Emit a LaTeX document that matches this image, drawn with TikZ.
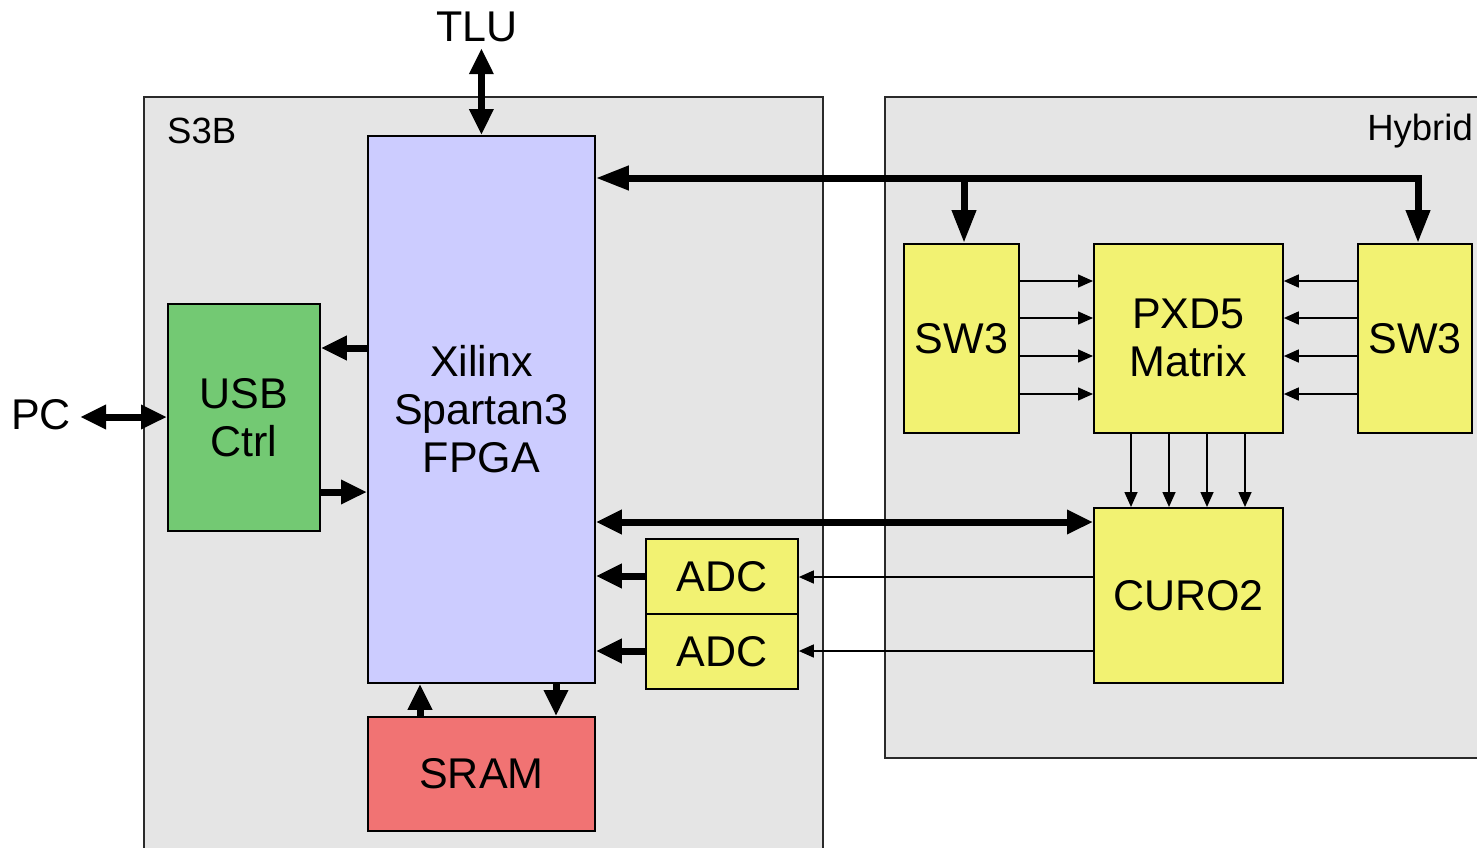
\documentclass[tikz,border=0pt]{standalone}
\usepackage{fontspec}
\setmainfont{Liberation Sans}
\usetikzlibrary{arrows.meta}
\definecolor{bggray}{HTML}{E5E5E5}
\definecolor{fpgacol}{HTML}{CCCCFF}
\definecolor{usbcol}{HTML}{73C973}
\definecolor{sramcol}{HTML}{F17373}
\definecolor{ylw}{HTML}{F2F272}
\definecolor{edgecol}{HTML}{2A2A2A}
\begin{document}
\begin{tikzpicture}[x=1pt,y=-1pt,
  outerbox/.style={draw=edgecol, line width=1.5pt, fill=bggray, anchor=north west, inner sep=0pt},
  blk/.style={draw=black, line width=1.8pt, anchor=north west, inner sep=0pt, align=center,
    font=\fontsize{43pt}{48pt}\selectfont},
  lbl/.style={font=\fontsize{43pt}{48pt}\selectfont, inner sep=0pt},
  smalllbl/.style={font=\fontsize{36.5pt}{40pt}\selectfont, inner sep=0pt},
  thk/.style={line width=7pt, arrows={-Triangle[length=26pt,width=23pt]}},
  thkboth/.style={line width=7pt, arrows={Triangle[length=26pt,width=23pt]-Triangle[length=26pt,width=23pt]}},
  thkbus/.style={line width=7pt, arrows={Triangle[length=33pt,width=23pt]-Triangle[length=33pt,width=23pt]}},
  thkdown/.style={line width=7pt, arrows={-Triangle[length=33pt,width=23pt]}},
  thn/.style={line width=1.5pt, arrows={-Triangle[length=15pt,width=13pt]}}
]
\clip (0,0) rectangle (1477,847);
\fill[white] (0,0) rectangle (1477,847);

% outer boards
\node[outerbox, minimum width=679pt, minimum height=800pt] (s3b) at (143,96) {};
\node[outerbox, minimum width=650pt, minimum height=661pt] (hyb) at (884,96) {};
\node[smalllbl, anchor=west] (s3blbl) at (167,131) {S3B};
\node[smalllbl, anchor=east] (hyblbl) at (1473,131) {Hybrid};

% blocks
\node[blk, fill=fpgacol, minimum width=227pt, minimum height=547pt] (fpga) at (367,135) {Xilinx\\Spartan3\\FPGA};
\node[blk, fill=usbcol, minimum width=152pt, minimum height=227pt] (usb) at (167,303) {USB\\Ctrl};
\node[blk, fill=sramcol, minimum width=227pt, minimum height=114pt] (sram) at (367,716) {SRAM};
\node[blk, fill=ylw, minimum width=152pt, minimum height=75pt] (adca) at (645,538) {ADC};
\node[blk, fill=ylw, minimum width=152pt, minimum height=75pt] (adcb) at (645,613) {ADC};
\node[blk, fill=ylw, minimum width=189pt, minimum height=175pt] (curo) at (1093,507) {CURO2};
\node[blk, fill=ylw, minimum width=189pt, minimum height=189pt] (pxd) at (1093,243) {PXD5\\Matrix};
\node[blk, fill=ylw, minimum width=115pt, minimum height=189pt] (swa) at (903,243) {SW3};
\node[blk, fill=ylw, minimum width=114pt, minimum height=189pt] (swb) at (1357,243) {SW3};

% outside labels
\node[lbl] (tlu) at (477,27) {TLU};
\node[lbl] (pc) at (41,415) {PC};

% TLU and PC links
\draw[thkboth, shorten <=6pt] (tlu.south -| fpga.north) -- (fpga.north);
\draw[thkboth, shorten <=9pt] (pc.east |- 0,417) -- (usb.west |- 0,417);

% FPGA <-> USB
\draw[thk] (fpga.west |- 0,348) -- (usb.east |- 0,348);
\draw[thk] (usb.east |- 0,492) -- (fpga.west |- 0,492);

% FPGA <-> SRAM
\draw[thk] (sram.north -| 420,0) -- (fpga.south -| 420,0);
\draw[thk] (fpga.south -| 556,0) -- (sram.north -| 556,0);

% ADCs to FPGA
\draw[thk] (adca.west |- 0,576) -- (fpga.east |- 0,576);
\draw[thk] (adcb.west |- 0,651) -- (fpga.east |- 0,651);

% FPGA <-> CURO2
\draw[thkboth] (fpga.east |- 0,522) -- (curo.west |- 0,522);

% CURO2 to ADCs
\draw[thn] (curo.west |- 0,577) -- (adca.east |- 0,577);
\draw[thn] (curo.west |- 0,651) -- (adcb.east |- 0,651);

% top bus
\coordinate (busR) at (1418,178);
\coordinate (busL) at (964,178);
\draw[thkbus, line join=miter] (fpga.east |- busR) -- (busR) -- (busR |- swb.north);
\draw[thkdown] (busL) -- (busL |- swa.north);

% SW3 to matrix
\foreach \yy in {281,318,356,394}{
  \draw[thn] (swa.east |- 0,\yy) -- (pxd.west |- 0,\yy);
  \draw[thn] (swb.west |- 0,\yy) -- (pxd.east |- 0,\yy);
}
% matrix to CURO2
\foreach \xx in {1131,1169,1207,1245}{
  \draw[thn] (pxd.south -| \xx,0) -- (curo.north -| \xx,0);
}
\end{tikzpicture}
\end{document}
